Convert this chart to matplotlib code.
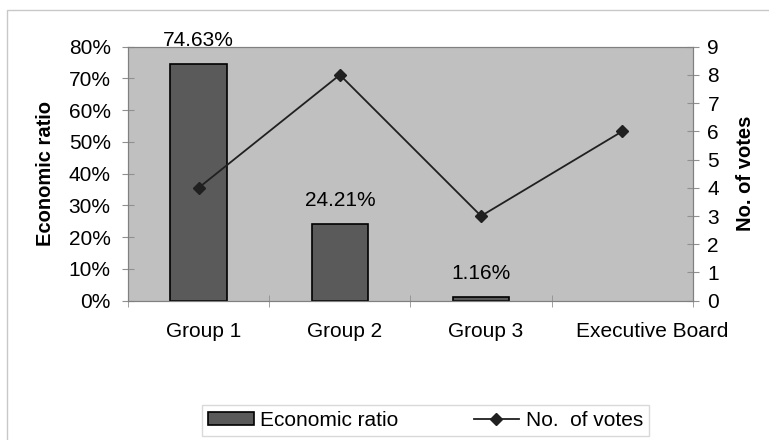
import matplotlib
matplotlib.use('Agg')
import matplotlib.pyplot as plt
import matplotlib.patches as patches
import matplotlib.transforms as mtransforms
import numpy as np

# Chart data
groups = ['Group 1', 'Group 2', 'Group 3', 'Executive Board']
ratio = [74.63, 24.21, 1.16, 0.0]
votes = [4, 8, 3, 6]

plt.rcParams['font.family'] = ['Liberation Sans', 'DejaVu Sans']
plt.rcParams['font.size'] = 15

fig = plt.figure(figsize=(7.69, 4.40), dpi=100)
ax = fig.add_axes([0.1665, 0.3166, 0.7345, 0.5774])

# light outer frame (top and left only visible)
fig.patches.append(patches.Rectangle((7 / 769, -0.1), 1.2, 1 - 10 / 440 + 0.1,
                                     transform=fig.transFigure, fill=False,
                                     edgecolor='#c8c8c8', linewidth=1))

x = np.arange(len(groups))
ax.set_facecolor('#c0c0c0')
ax.bar(x[:3], ratio[:3], width=0.4, color='#5a5a5a', edgecolor='black',
       linewidth=1.2, zorder=2, label='Economic ratio')
for xi, v in zip(x[:3], ratio[:3]):
    ax.annotate('%.2f%%' % v, (xi, v), xytext=(0, 17), textcoords='offset points',
                ha='center', va='center', fontsize=15, annotation_clip=False)

ax.set_xlim(-0.5, 3.5)
ax.set_ylim(0, 80)
ax.set_yticks(np.arange(0, 81, 10))
ax.set_yticklabels(['%d%%' % t for t in range(0, 81, 10)])
ax.set_xticks(x)
ax.set_xticklabels(groups)
ax.set_xticks(np.arange(-0.5, 3.6, 1), minor=True)
ax.tick_params(axis='x', which='major', length=0, pad=15, labelsize=15)
ax.tick_params(axis='x', which='minor', length=8, color='#909090', direction='inout')
ax.tick_params(axis='y', length=9, color='#909090', direction='inout', pad=8,
               labelsize=15)
ax.set_ylabel('Economic ratio', fontweight='bold', fontsize=14.5, labelpad=10)
for s in ax.spines.values():
    s.set_color('#808080')

# category labels sit a little right of the bars, the last one more so
shifts = [5, 5, 5, 30]
for lab, dx in zip(ax.get_xticklabels(), shifts):
    lab.set_transform(lab.get_transform() +
                      mtransforms.ScaledTranslation(dx / 100, 0, fig.dpi_scale_trans))

ax2 = ax.twinx()
ax2.plot(x, votes, color='#202020', linewidth=1.3, marker='D', markersize=6.5,
         label='No.  of votes', zorder=3)
ax2.set_ylim(0, 9)
ax2.set_yticks(range(0, 10))
ax2.tick_params(axis='y', length=9, color='#909090', direction='inout', pad=6,
                labelsize=15)
ax2.set_ylabel('No. of votes', fontweight='bold', fontsize=14.5, labelpad=12)
for s in ax2.spines.values():
    s.set_color('#808080')

h1, l1 = ax.get_legend_handles_labels()
h2, l2 = ax2.get_legend_handles_labels()
leg = fig.legend(h1 + h2, l1 + l2, loc='center', ncol=2,
                 bbox_to_anchor=(425.5 / 769, 1 - 420.5 / 440),
                 fancybox=False, edgecolor='#d0d0d0', fontsize=15,
                 columnspacing=3.6, handlelength=2.2, handletextpad=0.3,
                 borderpad=0.3, handleheight=0.6)
leg.get_frame().set_linewidth(1)

fig.savefig('out.png', dpi=100, facecolor='white')
